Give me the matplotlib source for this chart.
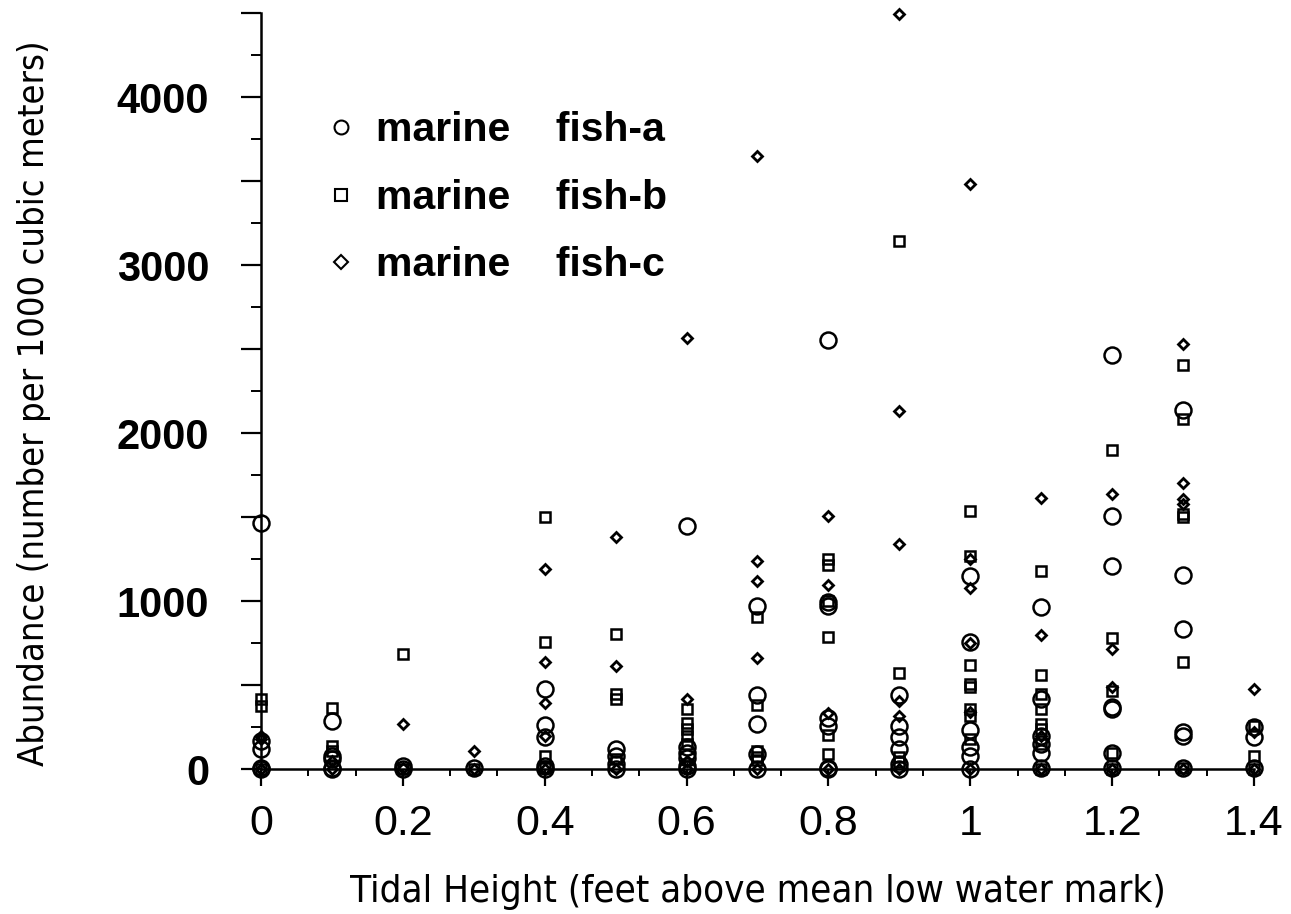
import matplotlib
matplotlib.use("Agg")
import matplotlib.pyplot as plt
from matplotlib.lines import Line2D
from matplotlib.ticker import MultipleLocator, FixedLocator, FuncFormatter
from matplotlib import font_manager

# ---------------- data ----------------
fish_a_x = [0.0]*5 + [0.1]*5 + [0.2]*2 + [0.3] + [0.4]*5 + [0.5]*4 + [0.6]*6 + [0.7]*5 + \
           [0.8]*7 + [0.9]*6 + [1.0]*6 + [1.1]*6 + [1.2]*7 + [1.3]*6 + [1.4]*3
fish_a_y = [1468, 170, 120, 10, 0,
            285, 80, 60, 10, 0,
            20, 0,
            5,
            480, 265, 195, 20, 0,
            120, 80, 30, 0,
            1450, 130, 100, 70, 20, 0,
            975, 440, 268, 90, 0,
            2558, 995, 975, 307, 255, 10, 0,
            442, 255, 195, 120, 30, 0,
            1149, 757, 234, 135, 80, 0,
            968, 421, 200, 150, 100, 10,
            2466, 1505, 1208, 369, 360, 100, 10,
            2140, 1158, 835, 220, 200, 10,
            250, 190, 10]

fish_b_x = [0.0]*3 + [0.1]*3 + [0.2]*2 + [0.3] + [0.4]*4 + [0.5]*4 + [0.6]*5 + [0.7]*5 + \
           [0.8]*6 + [0.9]*4 + [1.0]*8 + [1.1]*8 + [1.2]*5 + [1.3]*6 + [1.4]*3
fish_b_y = [420, 375, 0,
            366, 137, 110,
            685, 0,
            0,
            1502, 757, 82, 10,
            803, 450, 420, 60,
            357, 276, 240, 200, 150,
            906, 381, 110, 75, 58,
            1253, 1214, 1000, 785, 202, 89,
            3147, 571, 75, 45,
            1539, 1270, 622, 505, 490, 360, 316, 180,
            1178, 562, 451, 360, 270, 240, 150, 0,
            1900, 783, 469, 100, 0,
            2406, 2087, 1520, 1500, 639, 10,
            260, 80, 0]

fish_c_x = [0.0]*3 + [0.1]*2 + [0.2]*2 + [0.3]*2 + [0.4]*5 + [0.5]*3 + [0.6]*4 + [0.7]*5 + \
           [0.8]*4 + [0.9]*6 + [1.0]*6 + [1.1]*4 + [1.2]*4 + [1.3]*5 + [1.4]*3
fish_c_y = [200, 180, 0,
            50, 0,
            270, 10,
            107, 0,
            1190, 638, 395, 197, 0,
            1385, 614, 0,
            2565, 420, 50, 0,
            3649, 1240, 1122, 662, 0,
            1510, 1100, 334, 0,
            4494, 2130, 1344, 406, 316, 0,
            3486, 1250, 1082, 750, 340, 0,
            1614, 797, 200, 0,
            1637, 719, 490, 0,
            2530, 1707, 1607, 1577, 0,
            479, 220, 0]

labels = ["marine    fish-a", "marine    fish-b", "marine    fish-c"]
x_ticks = [0, 0.2, 0.4, 0.6, 0.8, 1.0, 1.2, 1.4]
x_tick_labels = ["0", "0.2", "0.4", "0.6", "0.8", "1", "1.2", "1.4"]
x_label = "Tidal Height (feet above mean low water mark)"
y_label = "Abundance (number per 1000 cubic meters)"

# ---------------- fonts ----------------
names = {f.name for f in font_manager.fontManager.ttflist}
if "Liberation Sans Narrow" in names:
    narrow_kw = dict(family=["Liberation Sans Narrow", "DejaVu Sans"])
else:
    narrow_kw = dict(family=["DejaVu Sans", "Liberation Sans"], fontstretch="condensed")

# ---------------- figure ----------------
fig = plt.figure(figsize=(12.91, 9.14), dpi=100)
ax = fig.add_axes([0.2022, 0.1583, 0.9713 - 0.2022, 0.9854 - 0.1583])

common = dict(linestyle="none", color="black", markerfacecolor="none")
ax.plot(fish_a_x, fish_a_y, marker="o", markersize=11.5, markeredgewidth=1.8, clip_on=False, **common)
ax.plot(fish_b_x, fish_b_y, marker="s", markersize=7.5, markeredgewidth=1.8, clip_on=False, **common)
ax.plot(fish_c_x, fish_c_y, marker="D", markersize=5, markeredgewidth=2.0, clip_on=False, **common)

ax.set_xlim(0, 1.4)
ax.set_ylim(0, 4500)

for s in ["top", "right"]:
    ax.spines[s].set_visible(False)
for s in ["left", "bottom"]:
    ax.spines[s].set_linewidth(1.8)

# y ticks: long at multiples of 500, short at odd 250, labels at 1000s
ax.yaxis.set_major_locator(MultipleLocator(500))
ax.yaxis.set_minor_locator(MultipleLocator(250))
ax.yaxis.set_major_formatter(FuncFormatter(lambda v, p: f"{int(v)}" if v % 1000 == 0 else ""))
ax.tick_params(axis="y", which="major", length=14.4, width=1.6, direction="out", pad=23)
ax.tick_params(axis="y", which="minor", length=7.2, width=1.4, direction="out")
for t in ax.get_yticklabels():
    t.set_fontfamily(["Liberation Sans", "DejaVu Sans"])
    t.set_fontweight("bold")
    t.set_fontsize(30)

ax.set_xticks(x_ticks)
ax.set_xticklabels(x_tick_labels, family=["Liberation Sans", "DejaVu Sans"])
minor_x = [i * 0.2 / 3 for i in range(0, 22) if i % 3 != 0]
ax.xaxis.set_minor_locator(FixedLocator(minor_x))
ax.tick_params(axis="x", which="major", length=12, width=1.6, direction="out", pad=13, labelsize=31)
ax.tick_params(axis="x", which="minor", length=5, width=1.4, direction="out")

ax.set_xlabel(x_label, fontsize=27.5, **narrow_kw)
ax.xaxis.set_label_coords(0.5, -0.1385)
ax.set_ylabel(y_label, fontsize=26, **narrow_kw)
ax.yaxis.set_label_coords(-0.212, 0.4845)

lh = dict(linestyle="none", color="black", markerfacecolor="none")
handles = [
    Line2D([], [], marker="o", markersize=10, markeredgewidth=1.5, **lh),
    Line2D([], [], marker="s", markersize=8.5, markeredgewidth=1.5, **lh),
    Line2D([], [], marker="D", markersize=7.5, markeredgewidth=1.5, **lh),
]
ax.legend(handles, labels, loc="upper left", bbox_to_anchor=(0.023, 0.919),
          frameon=False, handlelength=1.0, handletextpad=0.36, labelspacing=0.72,
          prop=dict(family=["Liberation Sans", "DejaVu Sans"], weight="bold", size=29.5))

fig.savefig("out.png", dpi=100)
